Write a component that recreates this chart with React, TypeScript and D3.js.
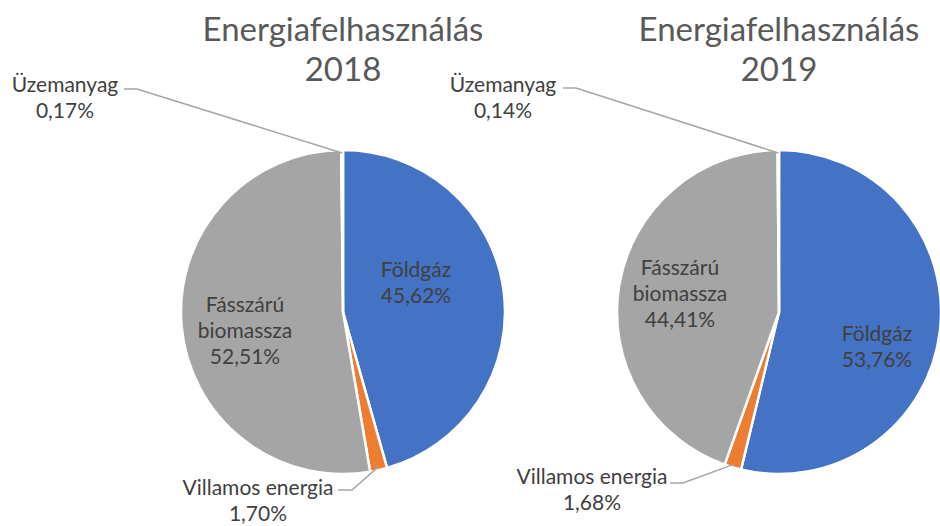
import React from "react";
import * as d3 from "d3";

const categories = ["Földgáz", "Villamos energia", "Fásszárú biomassza", "Üzemanyag"];
const values2018 = [45.62, 1.70, 52.51, 0.17];
const values2019 = [53.76, 1.68, 44.41, 0.14];
const labels2018 = ["45,62%", "1,70%", "52,51%", "0,17%"];
const labels2019 = ["53,76%", "1,68%", "44,41%", "0,14%"];
const colors = ["#4472C4", "#ED7D31", "#A5A5A5", "#FFC000"];

const W = 940, H = 526;
const FONT = "Lato, 'Open Sans', sans-serif";
const TXT = "#404040";

type LabelSpec = { lines: string[]; x: number; y: number; leader?: [number, number][] };

function Pie({ cx, cy, r, values, year, labelSpecs }: { cx: number; cy: number; r: number; values: number[]; year: string; labelSpecs: LabelSpec[] }) {
  const pie = d3.pie<number>().sort(null).value((d) => d)(values);
  const arc = d3.arc<d3.PieArcDatum<number>>().innerRadius(0).outerRadius(r);
  return (
    <g>
      <text x={cx} y={41} textAnchor="middle" fontSize={33} fill="#595959" fontFamily={FONT}>Energiafelhasználás</text>
      <text x={cx} y={81} textAnchor="middle" fontSize={33} fill="#595959" fontFamily={FONT}>{year}</text>
      <g transform={`translate(${cx},${cy})`}>
        {pie.map((p, i) => (
          <path key={i} d={arc(p) || ""} fill={colors[i]} stroke="#fff" strokeWidth={2.5} strokeLinejoin="round" />
        ))}
      </g>
      {labelSpecs.map((s, i) => {
        const p = pie[i];
        const mid = (p.startAngle + p.endAngle) / 2;
        return (
          <g key={i}>
            {s.leader && (
              <polyline
                points={[...s.leader, [cx + (r - 3) * Math.sin(mid), cy - (r - 3) * Math.cos(mid)]].map((q) => q.join(",")).join(" ")}
                fill="none" stroke="#A6A6A6" strokeWidth={1.5} />
            )}
            {s.lines.map((ln, j) => (
              <text key={j} x={s.x} y={s.y + j * 26} textAnchor="middle" fontSize={21} fill={TXT} fontFamily={FONT}>{ln}</text>
            ))}
          </g>
        );
      })}
    </g>
  );
}

export default function App() {
  const left: LabelSpec[] = [
    { lines: ["Földgáz", labels2018[0]], x: 416, y: 277 },
    { lines: ["Villamos energia", labels2018[1]], x: 258, y: 495, leader: [[338, 490], [352, 490]] },
    { lines: ["Fásszárú", "biomassza", labels2018[2]], x: 245, y: 312 },
    { lines: ["Üzemanyag", labels2018[3]], x: 65, y: 92, leader: [[124, 89], [137, 89]] },
  ];
  const right: LabelSpec[] = [
    { lines: ["Földgáz", labels2019[0]], x: 877, y: 341 },
    { lines: ["Villamos energia", labels2019[1]], x: 592, y: 484, leader: [[670, 483], [683, 483]] },
    { lines: ["Fásszárú", "biomassza", labels2019[2]], x: 680, y: 275 },
    { lines: ["Üzemanyag", labels2019[3]], x: 503, y: 92, leader: [[563, 88], [576, 88]] },
  ];
  return (
    <svg width={W} height={H} style={{ position: "absolute", left: 0, top: 0, background: "#fff" }}>
      <rect width={W} height={H} fill="#fff" />
      <Pie cx={343} cy={312} r={162} values={values2018} year="2018" labelSpecs={left} />
      <Pie cx={779} cy={312} r={162} values={values2019} year="2019" labelSpecs={right} />
    </svg>
  );
}
